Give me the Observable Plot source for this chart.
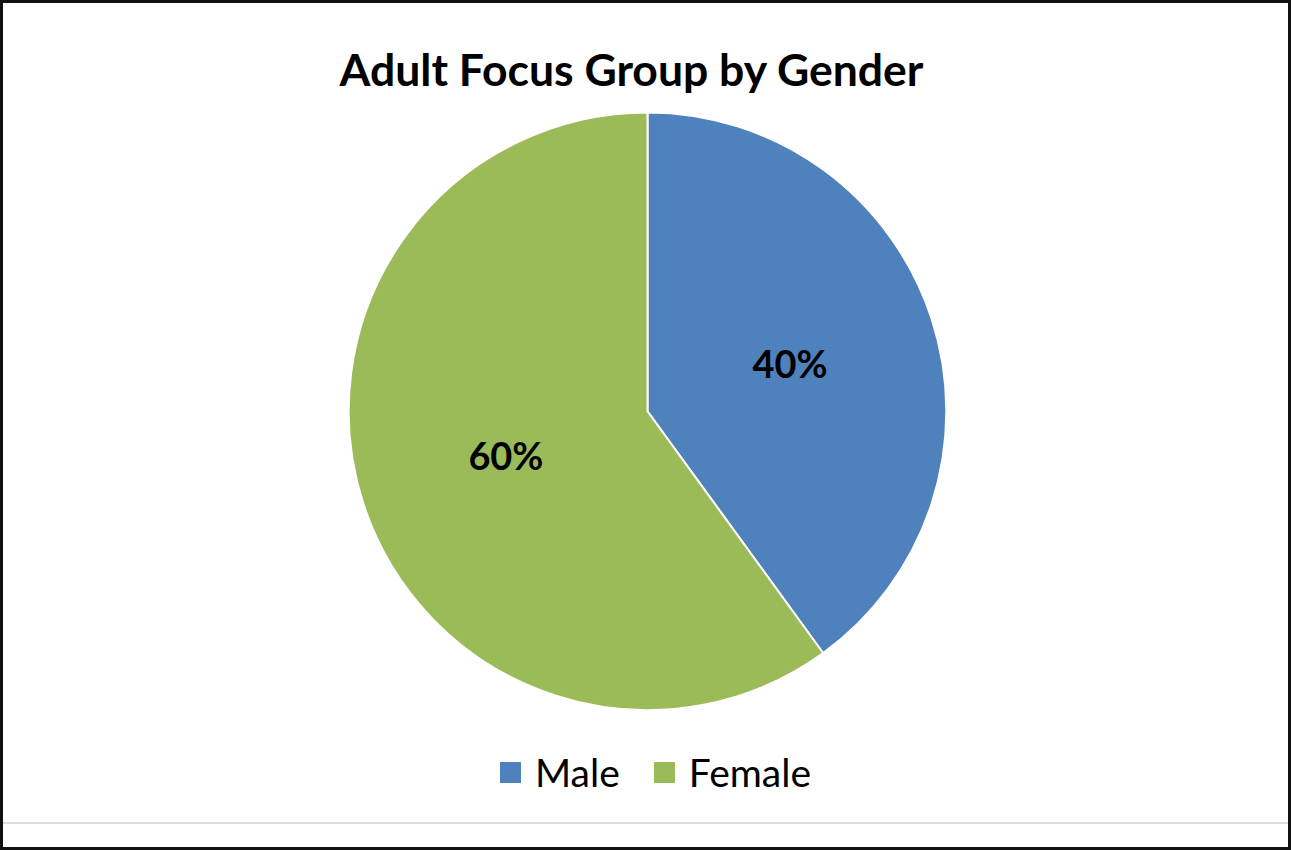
<!DOCTYPE html>
<html>
<head>
<meta charset="utf-8">
<script src="https://cdn.jsdelivr.net/npm/d3@7"></script>
<script src="https://cdn.jsdelivr.net/npm/@observablehq/plot@0.6"></script>
<style>
  html, body { margin: 0; padding: 0; background: #fff; }
  #frame {
    position: relative; width: 1291px; height: 850px; box-sizing: border-box;
    border: 3px solid #111; overflow: hidden; font-family: Lato, "Open Sans", sans-serif;
  }
  #title {
    position: absolute; left: 0; top: 0; width: 1285px; height: 97px;
    font-weight: bold; font-size: 44.5px; color: #000; line-height: 1;
  }
  #title span { position: absolute; left: 0; right: 28px; top: 44px; text-align: center; }
  #chart { position: absolute; left: -3px; top: 97px; }
  #legend {
    position: absolute; top: 746px; left: 0; width: 1285px; display: flex; justify-content: center;
    align-items: center; font-size: 39px; color: #000; padding-left: 20px; box-sizing: border-box;
  }
  .item { display: flex; align-items: center; margin: 0 17px; }
  .sw { width: 21px; height: 21px; margin-right: 14px; }
  #rule { position: absolute; left: 0; width: 1285px; top: 819px; height: 2px; background: #dcdcdc; }
</style>
</head>
<body>
<div id="frame">
  <div id="title"><span>Adult Focus Group by Gender</span></div>
  <div id="chart"></div>
  <div id="legend"></div>
  <div id="rule"></div>
</div>
<script>
const categories = ["Male", "Female"];
const values = [40, 60];
const labels = ["40%", "60%"];
const colors = ["#4F81BD", "#9BBB59"];

const data = categories.map((c, i) => ({category: c, value: values[i], label: labels[i]}));
const arcs = d3.pie().sort(null).value(d => d.value)(data);
const labelData = arcs.map(a => {
  const mid = (a.startAngle + a.endAngle) / 2;
  return {label: a.data.label, ux: 0.5 * Math.sin(mid), uy: 0.5 * Math.cos(mid)};
});

const cx = 649, cy = 312, R = 299.5;

function pieMark(index, scales) {
  const x = scales.x, y = scales.y;
  const px = x(0), py = y(0);
  const r = Math.abs(x(1) - x(0));
  const g = d3.create("svg:g").attr("transform", `translate(${px},${py})`);
  const arc = d3.arc().innerRadius(0).outerRadius(r);
  g.selectAll("path").data(arcs).join("path")
    .attr("d", arc)
    .attr("fill", d => colors[categories.indexOf(d.data.category)])
    .attr("stroke", "#fff")
    .attr("stroke-width", 2)
    .attr("stroke-linejoin", "round");
  return g.node();
}

const plot = Plot.plot({
  width: 1291,
  height: 640,
  margin: 0,
  style: {background: "transparent", overflow: "visible"},
  x: {type: "linear", domain: [-1, 1], range: [cx - R, cx + R], axis: null},
  y: {type: "linear", domain: [-1, 1], range: [cy + R, cy - R], axis: null},
  marks: [
    pieMark,
    Plot.text(labelData, {
      x: "ux", y: "uy", text: "label",
      fontSize: 38, fontWeight: "bold", fill: "#000",
      fontFamily: "Lato, 'Open Sans', sans-serif"
    })
  ]
});
document.getElementById("chart").appendChild(plot);

const legend = d3.select("#legend");
categories.forEach((c, i) => {
  const it = legend.append("div").attr("class", "item");
  it.append("div").attr("class", "sw").style("background", colors[i]);
  it.append("span").text(c);
});
</script>
</body>
</html>
